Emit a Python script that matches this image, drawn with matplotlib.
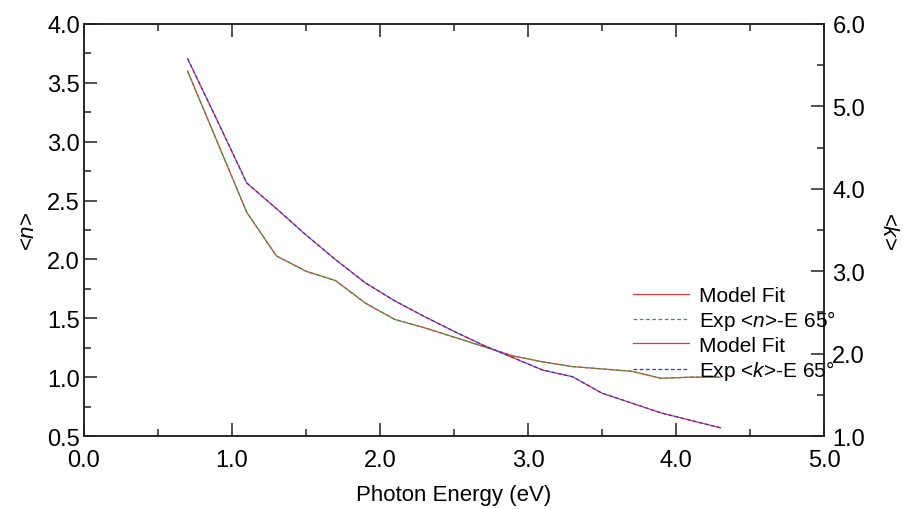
import matplotlib
matplotlib.use("Agg")
import matplotlib.pyplot as plt
from matplotlib.ticker import MultipleLocator, FormatStrFormatter

plt.rcParams['font.family'] = ['Liberation Sans', 'DejaVu Sans']
plt.rcParams['mathtext.fontset'] = 'custom'
plt.rcParams['mathtext.it'] = 'Liberation Sans:italic'
plt.rcParams['mathtext.rm'] = 'Liberation Sans'

# photon energy (eV)
energy = [0.7, 0.9, 1.1, 1.3, 1.5, 1.7, 1.9, 2.1, 2.3, 2.5, 2.7, 2.9,
          3.1, 3.3, 3.5, 3.7, 3.9, 4.1, 4.3]

# <n> model fit and experiment (left axis)
n_model = [3.60, 3.00, 2.40, 2.03, 1.90, 1.82, 1.63, 1.49, 1.42, 1.34, 1.26, 1.18,
           1.13, 1.09, 1.07, 1.05, 0.99, 1.00, 1.00]
n_exp = [3.60, 3.00, 2.40, 2.03, 1.90, 1.82, 1.63, 1.49, 1.42, 1.34, 1.26, 1.18,
         1.13, 1.09, 1.07, 1.05, 0.99, 1.00, 1.00]

# <k> model fit and experiment (right axis)
k_model = [5.58, 4.83, 4.07, 3.76, 3.44, 3.14, 2.86, 2.64, 2.45, 2.27, 2.10, 1.95,
           1.80, 1.72, 1.52, 1.40, 1.28, 1.19, 1.10]
k_exp = [5.58, 4.83, 4.07, 3.76, 3.44, 3.14, 2.86, 2.64, 2.45, 2.27, 2.10, 1.95,
         1.80, 1.72, 1.52, 1.40, 1.28, 1.19, 1.10]

fig = plt.figure(figsize=(9.04, 5.10), dpi=100)
ax = fig.add_axes([0.0929, 0.1431, 0.8186, 0.8079])
ax2 = ax.twinx()

l1, = ax.plot(energy, n_model, color='#e23b3b', lw=0.9, label='Model Fit')
l2, = ax.plot(energy, n_exp, color='#3c9a3c', lw=0.9, ls=(0, (3, 2)), label='Exp <$n$>-E 65°')
l3, = ax2.plot(energy, k_model, color='#e0305a', lw=0.9, label='Model Fit')
l4, = ax2.plot(energy, k_exp, color='#3535c8', lw=0.9, ls=(0, (3, 2)), label='Exp <$k$>-E 65°')

ax.set_xlim(0, 5)
ax.set_ylim(0.5, 4.0)
ax2.set_ylim(1.0, 6.0)

ax.xaxis.set_major_locator(MultipleLocator(1.0))
ax.xaxis.set_minor_locator(MultipleLocator(0.5))
ax.xaxis.set_major_formatter(FormatStrFormatter('%.1f'))
ax.yaxis.set_major_locator(MultipleLocator(0.5))
ax.yaxis.set_minor_locator(MultipleLocator(0.25))
ax.yaxis.set_major_formatter(FormatStrFormatter('%.1f'))
ax2.yaxis.set_major_locator(MultipleLocator(1.0))
ax2.yaxis.set_minor_locator(MultipleLocator(0.5))
ax2.yaxis.set_major_formatter(FormatStrFormatter('%.1f'))

for a in (ax, ax2):
    for s in a.spines.values():
        s.set_linewidth(1.1)
        s.set_color('#222222')

ax.tick_params(axis='x', which='both', direction='in', top=True, labelsize=17, pad=9, color='#222222')
ax.tick_params(axis='y', which='both', direction='in', labelsize=17, pad=3, color='#222222')
ax.tick_params(which='major', length=9.5, width=1.1)
ax.tick_params(which='minor', length=4.8, width=1.1)
ax2.tick_params(axis='y', which='both', direction='in', labelsize=17, pad=6, color='#222222')
ax2.tick_params(which='major', length=9.5, width=1.1)
ax2.tick_params(which='minor', length=4.8, width=1.1)
for lbl in ax.get_yticklabels() + ax2.get_yticklabels():
    lbl.set_verticalalignment('center_baseline')

ax.set_xlabel('Photon Energy (eV)', fontsize=16, labelpad=10)
ax.set_ylabel('<$n$>', fontsize=16, labelpad=6)
ax2.set_ylabel('<$k$>', fontsize=16, rotation=-90, labelpad=24)

fig.legend(handles=[l1, l2, l3, l4], loc='upper left',
           bbox_to_anchor=(633 / 904, 1 - 287 / 510), bbox_transform=fig.transFigure,
           frameon=False, fontsize=15, borderpad=0, borderaxespad=0,
           handlelength=2.7, handletextpad=0.45, labelspacing=0.16)

fig.savefig('out.png', dpi=100)
